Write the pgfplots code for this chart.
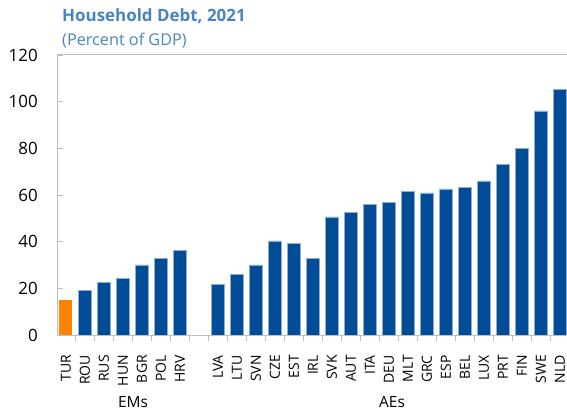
\documentclass[border=0pt]{standalone}
\usepackage{fontspec}
\setmainfont{Open Sans}
\usepackage{pgfplots}
\pgfplotsset{compat=1.18}
\definecolor{barblue}{RGB}{0,76,151}
\definecolor{barorange}{RGB}{255,130,0}
\definecolor{titleblue}{RGB}{72,132,196}
\definecolor{axisgray}{RGB}{190,190,190}
\begin{document}
\begin{tikzpicture}
\useasboundingbox (-57bp,-79bp) rectangle (510bp,335bp);
\begin{axis}[
    at={(0,0)}, anchor=south west,
    scale only axis, width=510bp, height=280bp,
    xmin=-0.47, xmax=26.37, ymin=0, ymax=120,
    ytick={0,20,...,120},
    xtick={0,1,2,3,4,5,6,8,9,10,11,12,13,14,15,16,17,18,19,20,21,22,23,24,25,26},
    xticklabels={TUR,ROU,RUS,HUN,BGR,POL,HRV,LVA,LTU,SVN,CZE,EST,IRL,SVK,AUT,ITA,DEU,MLT,GRC,ESP,BEL,LUX,PRT,FIN,SWE,NLD},
    minor xtick={0.5,1.5,...,25.5},
    major x tick style={draw=none},
    major tick length=6bp, minor tick length=6bp,
    tick align=inside,
    tick style={axisgray, line width=0.8bp},
    xtick pos=bottom, ytick pos=left,
    axis line style={draw=none},
    x tick label style={rotate=90, anchor=east, inner sep=0pt, font=\fontsize{14}{15}\selectfont},
    xticklabel shift=14bp,
    y tick label style={inner sep=0pt, font=\fontsize{17}{19}\selectfont},
    yticklabel shift=19bp,
    /pgf/number format/assume math mode=true,
    ybar, bar width=0.68,
  ]
\addplot[fill=barorange, draw=none, bar shift=0pt] coordinates {(0,15.2)};
\addplot[fill=barblue, draw=barblue!45!white, line width=0.6bp, bar shift=0pt] coordinates {
  (1,19.2) (2,22.4) (3,24.2) (4,30.0) (5,32.7) (6,36.2)
  (8,21.7) (9,25.9) (10,30.0) (11,40.3) (12,39.2) (13,32.9) (14,50.6)
  (15,52.7) (16,55.9) (17,56.9) (18,61.4) (19,60.9) (20,62.6) (21,63.1)
  (22,66.0) (23,73.1) (24,80.0) (25,96.0) (26,105.4)};
\end{axis}
% frame: left, top and bottom
\draw[axisgray, line width=1bp] (510bp,280bp) -- (0,280bp) -- (0,0) -- (510bp,0);
% group labels
\node[anchor=base, inner sep=0, font=\fontsize{15.5}{17}\selectfont] at (76bp,-72bp) {EMs};
\node[anchor=base, inner sep=0, font=\fontsize{15.5}{17}\selectfont] at (335bp,-72bp) {AEs};
% title
\node[anchor=base west, inner sep=0, text=titleblue, font=\bfseries\fontsize{17}{20}\selectfont] at (5bp,313bp) {Household Debt, 2021};
\node[anchor=base west, inner sep=0, text=titleblue, font=\fontsize{16.3}{19}\selectfont] at (5bp,289bp) {(Percent of GDP)};
\end{tikzpicture}
\end{document}
